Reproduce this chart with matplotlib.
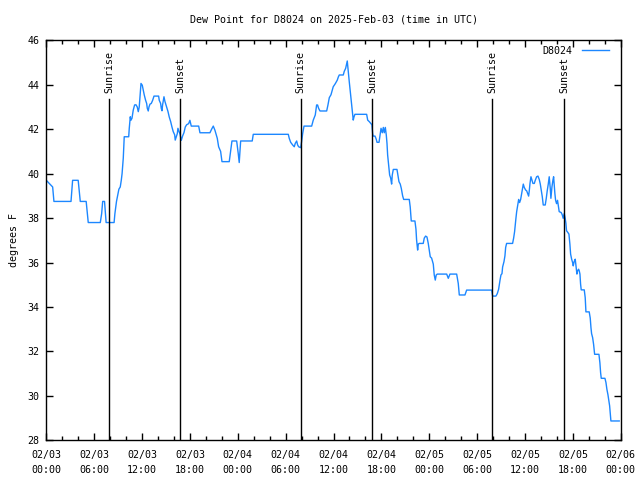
import numpy as np
import matplotlib
matplotlib.use('Agg')
import matplotlib.pyplot as plt
from matplotlib.ticker import MultipleLocator

# hours since 2025-02-03 00:00 UTC and dew point (F)
hours = [0.0, 0.8, 0.96, 3.1, 3.3, 4.0, 4.26, 5.0, 5.26, 6.77, 6.94, 7.07, 7.3, 7.5,
         8.5, 8.6, 8.8, 9.1, 9.27, 9.4, 9.5, 9.65, 9.77, 10.33, 10.4, 10.53, 10.6,
         10.74, 10.83, 10.9, 11.07, 11.24, 11.4, 11.53, 11.65, 11.78, 11.87, 12.03,
         12.16, 12.28, 12.45, 12.58, 12.66, 12.78, 12.87, 13.0, 13.16, 13.33, 13.5,
         14.08, 14.16, 14.33, 14.41, 14.5, 14.58, 14.75, 14.87, 15.0, 15.13, 15.25,
         15.41, 15.59, 15.75, 15.91, 16.09, 16.16, 16.29, 16.42, 16.5, 16.63, 16.75,
         16.92, 17.09, 17.26, 17.42, 17.59, 17.84, 18.0, 18.17, 19.1, 19.26, 20.51,
         20.72, 20.93, 21.14, 21.26, 21.43, 21.6, 21.85, 22.02, 22.93, 23.1, 23.27,
         23.86, 24.06, 24.18, 24.36, 25.81, 25.94, 30.33, 30.45, 30.63, 30.88, 31.08,
         31.2, 31.38, 31.5, 31.63, 31.88, 32.0, 32.13, 32.3, 33.26, 33.46, 33.71,
         33.88, 34.0, 34.13, 34.3, 35.14, 35.3, 35.47, 35.68, 35.8, 35.96, 36.22,
         36.47, 36.6, 36.72, 37.22, 37.34, 37.52, 37.64, 37.72, 37.84, 37.97, 38.14,
         38.27, 38.39, 38.47, 38.56, 38.68, 40.15, 40.28, 40.48, 40.69, 40.81, 40.9,
         40.97, 41.2, 41.36, 41.45, 41.7, 41.83, 41.95, 42.11, 42.24, 42.36, 42.49,
         42.61, 42.7, 42.78, 42.91, 43.03, 43.16, 43.28, 43.36, 43.49, 43.95, 44.07,
         44.2, 44.36, 44.49, 44.66, 44.79, 45.49, 45.61, 45.74, 46.2, 46.33, 46.41,
         46.54, 46.62, 46.74, 47.24, 47.37, 47.54, 47.71, 47.87, 47.99, 48.12, 48.29,
         48.5, 48.62, 48.75, 48.87, 49.0, 50.18, 50.38, 50.59, 51.43, 51.63, 51.76,
         52.47, 52.68, 55.82, 55.94, 56.35, 56.52, 56.69, 56.77, 56.86, 56.98, 57.11,
         57.19, 57.36, 57.48, 57.57, 57.69, 58.44, 58.57, 58.69, 58.77, 58.86, 58.95,
         59.07, 59.2, 59.32, 59.45, 59.57, 59.65, 59.78, 59.9, 60.08, 60.2, 60.33,
         60.45, 60.53, 60.62, 60.74, 60.87, 60.99, 61.16, 61.28, 61.45, 61.62, 61.78,
         61.91, 62.03, 62.16, 62.28, 62.53, 62.66, 62.78, 62.91, 63.03, 63.16, 63.24,
         63.37, 63.49, 63.58, 63.66, 63.74, 63.83, 63.95, 64.07, 64.2, 64.28, 64.53,
         64.66, 64.78, 64.91, 65.03, 65.12, 65.2, 65.37, 65.5, 65.62, 65.71, 65.84,
         65.96, 66.04, 66.16, 66.29, 66.38, 66.5, 66.59, 66.71, 66.79, 66.88, 66.96,
         67.04, 67.42, 67.54, 67.63, 68.04, 68.17, 68.26, 68.34, 68.47, 68.59, 68.72,
         69.26, 69.38, 69.47, 69.55, 70.01, 70.14, 70.26, 70.39, 70.47, 70.6, 70.67,
         70.76, 71.8]
dewpt = [39.7, 39.4, 38.75, 38.75, 39.7, 39.7, 38.75, 38.75, 37.8, 37.8, 38.2, 38.75,
         38.75, 37.8, 37.8, 38.2, 38.75, 39.3, 39.4, 39.7, 40.0, 40.7, 41.66, 41.66,
         42.04, 42.56, 42.4, 42.49, 42.7, 42.86, 43.09, 43.1, 43.0, 42.79, 43.0, 43.6,
         44.06, 43.98, 43.75, 43.54, 43.3, 43.16, 42.94, 42.82, 43.0, 43.13, 43.16,
         43.3, 43.49, 43.49, 43.3, 43.16, 42.94, 42.83, 43.1, 43.46, 43.25, 43.1,
         42.94, 42.8, 42.55, 42.34, 42.1, 41.89, 41.75, 41.51, 41.65, 41.8, 42.04,
         41.9, 41.8, 41.5, 41.7, 41.85, 42.1, 42.2, 42.25, 42.4, 42.14, 42.14, 41.84,
         41.84, 42.0, 42.14, 41.95, 41.8, 41.59, 41.21, 41.0, 40.54, 40.54, 41.0,
         41.47, 41.47, 40.9, 40.5, 41.47, 41.47, 41.77, 41.77, 41.59, 41.41, 41.29,
         41.21, 41.36, 41.47, 41.29, 41.21, 41.17, 41.44, 41.8, 42.14, 42.14, 42.41,
         42.64, 43.09, 43.09, 42.94, 42.82, 42.82, 43.09, 43.42, 43.55, 43.7, 43.91,
         44.05, 44.21, 44.35, 44.44, 44.44, 44.6, 44.74, 44.95, 45.07, 44.6, 44.14,
         43.55, 43.1, 42.64, 42.41, 42.55, 42.67, 42.67, 42.41, 42.34, 42.25, 42.2,
         41.81, 41.69, 41.69, 41.54, 41.41, 41.41, 41.74, 42.04, 41.84, 42.08, 41.84,
         42.08, 41.74, 41.36, 40.84, 40.39, 39.94, 39.8, 39.53, 39.94, 40.19, 40.19,
         39.94, 39.64, 39.53, 39.34, 39.0, 38.84, 38.84, 38.5, 37.87, 37.87, 37.5,
         37.01, 36.56, 36.83, 36.86, 36.86, 37.1, 37.19, 37.15, 36.86, 36.56, 36.26,
         36.2, 35.93, 35.44, 35.21, 35.44, 35.48, 35.48, 35.29, 35.48, 35.48, 35.06,
         34.54, 34.54, 34.76, 34.76, 34.49, 34.49, 34.6, 34.8, 34.99, 35.2, 35.44,
         35.5, 35.8, 36.04, 36.3, 36.68, 36.86, 36.86, 37.1, 37.39, 37.7, 38.0, 38.29,
         38.55, 38.84, 38.7, 38.84, 39.1, 39.29, 39.53, 39.38, 39.26, 39.23, 39.1,
         38.99, 39.23, 39.56, 39.86, 39.7, 39.56, 39.56, 39.7, 39.86, 39.89, 39.74,
         39.53, 39.26, 38.96, 38.59, 38.59, 38.89, 39.23, 39.53, 39.86, 39.34, 38.89,
         39.4, 39.7, 39.86, 39.5, 39.1, 38.8, 38.65, 38.8, 38.5, 38.29, 38.25, 38.15,
         37.99, 38.2, 37.99, 37.77, 37.43, 37.35, 37.28, 36.83, 36.38, 36.15, 36.0,
         35.85, 36.05, 36.15, 35.85, 35.48, 35.63, 35.7, 35.63, 35.48, 35.03, 34.77,
         34.77, 34.42, 33.78, 33.78, 33.5, 33.07, 32.8, 32.62, 32.32, 31.87, 31.87,
         31.49, 31.04, 30.79, 30.79, 30.6, 30.29, 30.05, 29.85, 29.55, 29.24, 28.87,
         28.87]

sun_hours = [7.9, 16.8, 31.9, 40.85, 55.9, 64.9]
sun_labels = ['Sunrise', 'Sunset', 'Sunrise', 'Sunset', 'Sunrise', 'Sunset']

xtick_hours = list(range(0, 73, 6))
xtick_labels = ['02/03\n00:00', '02/03\n06:00', '02/03\n12:00', '02/03\n18:00',
                '02/04\n00:00', '02/04\n06:00', '02/04\n12:00', '02/04\n18:00',
                '02/05\n00:00', '02/05\n06:00', '02/05\n12:00', '02/05\n18:00',
                '02/06\n00:00']

plt.rcParams['font.family'] = ['DejaVu Sans Mono']
plt.rcParams['font.size'] = 7.2

fig = plt.figure(figsize=(6.4, 4.8), dpi=100)
ax = fig.add_axes([0.0723, 0.0827, 0.8977, 0.8333])

ax.plot(hours, dewpt, color='#1c87ff', lw=1.0, label='D8024')

for h, lab in zip(sun_hours, sun_labels):
    ax.plot([h, h], [28, 43.36], color='black', lw=1.0)
    ax.text(h, 43.63, lab, rotation=90, ha='center', va='bottom', fontsize=7.2)

ax.set_xlim(0, 72)
ax.set_ylim(28, 46)
ax.set_xticks(xtick_hours)
ax.set_xticklabels(xtick_labels, linespacing=1.65)
ax.xaxis.set_minor_locator(MultipleLocator(2))
ax.yaxis.set_major_locator(MultipleLocator(2))
ax.tick_params(which='both', direction='in', top=True, right=True, width=1.0)
ax.tick_params(axis='x', pad=7)
ax.tick_params(axis='y', pad=5)
ax.tick_params(which='major', length=5)
ax.tick_params(which='minor', length=3)
for sp in ax.spines.values():
    sp.set_linewidth(1.0)

ax.set_title('Dew Point for D8024 on 2025-Feb-03 (time in UTC)', fontsize=7.2, pad=13)
ax.set_ylabel('degrees F', labelpad=6)

ax.legend(loc='upper right', bbox_to_anchor=(0.986, 0.997), borderaxespad=0,
          frameon=False, handlelength=2.7, handletextpad=0.9,
          markerfirst=False, fontsize=7.2)

fig.savefig('out.png', dpi=100)
